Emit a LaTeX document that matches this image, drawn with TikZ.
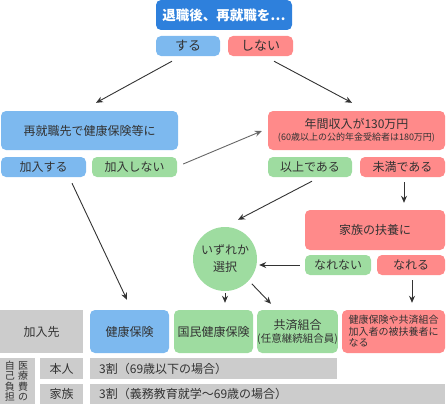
\documentclass[tikz,border=0pt]{standalone}
\usepackage{fontspec}
\setmainfont{Noto Sans CJK JP}
\usetikzlibrary{calc,arrows.meta}
\definecolor{dblue}{HTML}{2E80DC}
\definecolor{lblue}{HTML}{7DB9EF}
\definecolor{pinkc}{HTML}{FF8A8A}
\definecolor{greenc}{HTML}{9EDCA0}
\definecolor{grayc}{HTML}{CCCCCC}
\definecolor{txt}{HTML}{333333}
\tikzset{
  box/.style={rounded corners=5pt, inner sep=0pt, text=txt, align=center, font=\fontsize{12}{14}\selectfont},
  cell/.style={inner sep=0pt, fill=grayc, text=txt, align=center, font=\fontsize{12}{14}\selectfont},
  arr/.style={draw=txt, line width=0.9pt, -{Stealth[length=7pt,width=6pt]}}
}
\begin{document}
\begin{tikzpicture}[x=1pt,y=1pt]
\useasboundingbox (0,0) rectangle (446,-404);
% top
\node[box, fill=dblue, text=white, minimum width=136, minimum height=30, font=\fontsize{13.5}{15}\selectfont\bfseries] (title) at (224,-15) {退職後、再就職を…};
\node[box, fill=lblue, minimum width=64, minimum height=20, font=\fontsize{13}{14}\selectfont] (suru) at (188,-46) {する};
\node[box, fill=pinkc, minimum width=65, minimum height=20, font=\fontsize{13}{14}\selectfont] (shinai) at (260.5,-46) {しない};
% left branch
\node[box, fill=lblue, minimum width=177, minimum height=39] (saishu) at (89.5,-130.5) {再就職先で健康保険等に};
\node[box, fill=lblue, minimum width=85, minimum height=20] (kanyu) at (43.5,-167) {加入する};
\node[box, fill=greenc, minimum width=85, minimum height=20] (kanyunai) at (134.5,-167) {加入しない};
% right branch
\node[box, fill=pinkc, minimum width=177, minimum height=39] (nenkan) at (356.5,-130.5) {年間収入が130万円\\[-2pt]{\fontsize{9}{10}\selectfont (60歳以上の公的年金受給者は180万円)}};
\node[box, fill=greenc, minimum width=84, minimum height=20] (ijou) at (310,-167) {以上である};
\node[box, fill=pinkc, minimum width=85, minimum height=20] (miman) at (402.5,-167) {未満である};
\node[box, fill=pinkc, minimum width=140, minimum height=40] (fuyou) at (375,-230) {家族の扶養に};
\node[box, fill=greenc, minimum width=66, minimum height=20] (narenai) at (338,-265) {なれない};
\node[box, fill=pinkc, minimum width=68, minimum height=20] (nareru) at (411,-265) {なれる};
\node[circle, fill=greenc, minimum size=64, inner sep=0pt, text=txt, align=center, font=\fontsize{12}{17}\selectfont] (sentaku) at (225,-259) {いずれか\\選択};
% bottom row
\node[cell, minimum width=83, minimum height=43] (kanyusaki) at (41.5,-331.5) {加入先};
\node[box, fill=lblue, minimum width=79, minimum height=43] (kenko) at (129.5,-331.5) {健康保険};
\node[box, fill=greenc, minimum width=79, minimum height=43] (kokumin) at (213.5,-331.5) {国民健康保険};
\node[box, fill=greenc, minimum width=79, minimum height=43] (kyosai) at (297.5,-331.5) {共済組合\\[-1pt]{\fontsize{10.5}{12}\selectfont(任意継続組合員)}};
\node[box, fill=pinkc, minimum width=103, minimum height=43, align=left, font=\fontsize{10}{11.5}\selectfont] (fuyousha) at (393.5,-331.5) {健康保険や共済組合\\加入者の被扶養者に\\なる};
% table
\node[cell, minimum width=35, minimum height=46] (iryo) at (17.5,-381) {};
\node[text=txt, font=\fontsize{10}{10.5}\selectfont, align=center, inner sep=0pt] (iryoR) at (23,-381) {医\\療\\費\\の};
\node[text=txt, font=\fontsize{10}{10.5}\selectfont, align=center, inner sep=0pt] (iryoL) at (10,-381) {自\\己\\負\\担};
\node[cell, minimum width=43, minimum height=21] (honnin) at (61.5,-368.5) {本人};
\node[cell, minimum width=247, minimum height=21] (wari1) at (213.5,-368.5) {};
\node[text=txt, anchor=west, inner sep=0pt, font=\fontsize{12}{14}\selectfont] (wari1t) at (99,-368.5) {3割（69歳以下の場合）};
\node[cell, minimum width=43, minimum height=20] (kazoku) at (61.5,-394) {家族};
\node[cell, minimum width=355, minimum height=20] (wari2) at (267.5,-394) {};
\node[text=txt, anchor=west, inner sep=0pt, font=\fontsize{12}{14}\selectfont] (wari2t) at (99,-394) {3割（義務教育就学～69歳の場合）};
% arrows
\draw[arr] ($(suru.south)+(-16,-5)$) -- ($(saishu.north)+(6.5,8)$);
\draw[arr] ($(shinai.south)+(13.5,-5)$) -- ($(nenkan.north)+(-4.5,8)$);
\draw[arr, draw=gray!80!black] ($(kanyunai.east)+(6,3)$) -- ($(nenkan.west)+(-6,-0.5)$);
\draw[arr] ($(kanyu.south)+(28.5,-6)$) -- ($(kenko.north)+(-2.5,10)$);
\draw[arr] ($(ijou.south)+(2,-4)$) -- ($(sentaku.north)+(13,7)$);
\draw[arr] ($(miman.south)+(1.5,-5)$) -- ($(fuyou.north)+(29,7)$);
\draw[arr] ($(narenai.west)+(-5,0)$) -- ($(sentaku.east)+(2,-6)$);
\draw[arr] ($(sentaku.south)+(0,-2)$) -- ($(kokumin.north)+(11.5,7)$);
\draw[arr] ($(sentaku.south east)+(4,-2)$) -- ($(kyosai.north)+(-26.5,6)$);
\draw[arr] ($(nareru.south)+(1,-5)$) -- ($(fuyousha.north)+(18.5,7)$);
\end{tikzpicture}
\end{document}
